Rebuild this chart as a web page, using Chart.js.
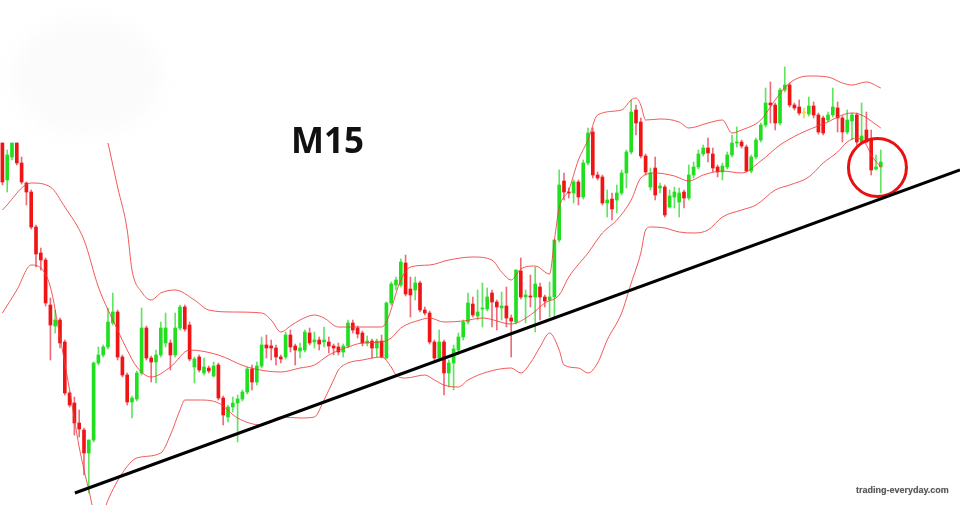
<!DOCTYPE html>
<html><head><meta charset="utf-8">
<script src="https://cdn.jsdelivr.net/npm/chart.js@4.4.1/dist/chart.umd.min.js"></script>
<style>
html,body{margin:0;padding:0;background:#fff;}
#wrap{position:relative;width:960px;height:505px;overflow:hidden;background:#fff;}
#blob{position:absolute;left:12px;top:18px;width:150px;height:118px;border-radius:50%;background:#fbfbfb;filter:blur(10px);}
canvas{position:absolute;left:0;top:0;}
#title{position:absolute;left:291px;top:122px;font-family:'Open Sans',sans-serif;font-weight:700;font-size:35px;line-height:1;color:#111;}
#wm{position:absolute;left:856px;top:486px;font-family:'Liberation Sans',Arial,sans-serif;font-weight:700;font-size:9px;line-height:1;color:#555;text-shadow:0 0 1px #bbb;}
</style></head>
<body>
<div id="wrap">
<div id="blob"></div>
<canvas id="c" width="960" height="505"></canvas>
<div id="title">M15</div>
<div id="wm">trading-everyday.com</div>
</div>
<script>
// M15 candles (price in points)
const open=[362,325,348,362,342,322,313,278,252,245,
200,179,185,163,112,102,82,75,52,65,
142,150,158,182,193,148,130,103,106,132,
177,147,143,150,162,162,150,177,198,180,
138,148,132,137,129,140,107,88,98,102,
106,113,136,123,139,160,159,157,148,148,
170,159,154,155,172,163,165,163,163,159,
158,153,159,182,177,172,162,164,157,164,
147,202,220,220,242,216,215,222,195,192,
163,147,163,132,142,155,168,183,201,189,
196,196,212,203,197,199,187,183,234,208,
209,208,218,208,205,208,265,324,313,312,
323,308,342,373,330,328,302,306,305,312,
332,353,395,383,349,318,337,317,318,298,
308,303,313,307,330,338,351,357,351,338,
333,338,350,362,363,358,334,348,365,380,
402,400,382,415,420,400,398,392,391,399,
390,387,385,390,397,387,373,384,390,363,
375,365,336,338];
const high=[362,355,362,362,348,323,315,280,257,247,
207,195,187,165,113,108,95,77,65,143,
158,160,197,212,195,150,132,109,134,197,
179,149,155,183,192,165,192,200,200,183,
148,150,147,139,143,142,109,100,108,110,
115,138,140,143,168,170,165,160,150,173,
175,161,162,175,177,173,168,178,168,161,
162,161,185,185,179,174,169,166,166,170,
203,223,228,246,250,228,228,224,198,194,
165,175,165,145,160,172,185,212,208,215,
222,217,215,205,213,218,190,235,247,215,
230,238,222,210,223,265,335,332,317,325,
325,345,377,377,333,330,315,312,320,335,
355,405,400,387,351,337,348,322,320,315,
318,317,315,340,343,355,360,367,357,340,
342,353,370,378,365,360,350,367,382,417,
423,402,417,438,422,402,405,397,408,403,
392,389,393,417,403,389,395,392,392,402,
393,375,350,355];
const low=[320,313,345,340,321,300,276,238,235,199,
145,172,157,110,98,70,68,30,12,63,
140,148,156,180,145,128,100,87,104,130,
145,123,122,148,158,135,148,175,174,144,
122,133,130,132,128,105,80,83,93,63,
104,111,115,120,137,147,145,140,142,146,
153,140,147,153,160,157,155,158,152,150,
150,148,157,172,167,159,159,147,148,147,
146,200,215,218,209,188,205,193,190,161,
145,145,110,118,115,153,165,181,188,185,
178,194,178,175,185,178,148,181,206,182,
198,173,185,198,188,188,263,305,307,302,
300,306,340,327,325,300,288,285,292,310,
317,351,370,347,330,315,305,312,288,297,
297,288,297,305,327,336,349,343,333,328,
325,336,348,358,357,333,332,346,363,378,
382,375,380,413,398,395,390,387,389,387,
371,370,383,388,373,363,371,365,360,361,
362,330,335,312];
const close=[323,350,362,342,323,313,278,251,245,202,
180,185,162,112,100,82,76,52,65,142,
150,158,183,193,148,130,103,107,132,177,
147,143,150,177,177,150,177,198,176,146,
146,135,138,134,139,107,90,98,102,106,
113,136,123,139,160,157,157,148,146,170,
158,155,157,173,162,165,161,165,159,157,
153,159,182,175,171,162,164,157,164,148,
202,221,225,243,211,210,222,195,192,163,
147,163,132,142,156,168,183,202,190,193,
197,208,203,198,199,187,184,235,208,210,
208,221,208,204,208,265,320,313,312,323,
308,342,372,330,327,302,305,296,312,332,
353,393,382,349,333,332,310,319,290,309,
313,312,307,330,338,351,357,352,337,333,
339,350,362,363,359,334,348,365,380,402,
400,382,415,420,400,397,392,392,399,390,
373,372,390,398,387,373,385,390,363,369,
363,335,338,343];

// Bollinger bands: [bar index, level]
const bandUpper=[[22,362],[24,318],[26,275],[27,235],[29,213],[31,205],[33,212],[36,215],[40,205],[43,195],[48,193],[54,192],[56,185],[58,173],[60,179],[62,185],[65,190],[67,187],[70,178],[74,178],[79,178],[80,183],[83,225],[85,238],[89,240],[93,245],[98,248],[102,245],[104,233],[106,225],[108,236],[111,239],[114,231],[115,265],[116,297],[118,315],[120,345],[122,365],[124,390],[129,395],[131,405],[132,407],[133,400],[134,385],[137,386],[141,383],[143,377],[147,382],[150,385],[152,372],[154,375],[158,385],[161,405],[164,422],[168,429],[172,428],[175,422],[177,420],[180,423],[183,417]];
const bandMiddle=[[0,295],[6,322],[10,318],[13,298],[17,265],[20,218],[24,175],[26,155],[28,138],[31,128],[35,138],[39,155],[45,150],[51,138],[58,133],[62,137],[65,140],[68,150],[72,158],[75,162],[79,163],[81,167],[83,177],[87,185],[89,187],[92,183],[96,184],[100,187],[106,181],[110,190],[113,202],[116,210],[118,228],[122,252],[125,272],[128,285],[131,305],[133,327],[136,332],[140,329],[143,324],[146,330],[150,334],[154,332],[158,344],[162,360],[166,371],[171,381],[177,392],[179,390],[183,377]];
const bandLower=[[0,192],[3,215],[6,240],[8,237],[10,218],[12,168],[14,115],[16,58],[18,15],[20,-20],[22,5],[25,32],[28,47],[33,52],[35,70],[37,95],[38,105],[41,105],[45,102],[49,87],[54,80],[58,88],[62,87],[65,88],[67,105],[69,125],[70,135],[72,142],[75,145],[79,148],[81,138],[82,130],[84,127],[88,130],[90,125],[92,120],[95,118],[97,125],[101,133],[106,137],[108,132],[110,142],[112,158],[114,172],[116,155],[117,140],[120,137],[122,132],[124,142],[126,165],[129,192],[131,222],[133,252],[134,275],[135,278],[138,277],[141,273],[144,272],[147,275],[150,288],[154,295],[157,300],[161,315],[164,320],[168,328],[171,342],[174,353],[176,363],[178,367],[180,360],[181,350],[183,338]];

const trendLine=[[15.1,12],[199.5,335]];
const markedBar=[[182.3,337.5]];
const slots=200;

const UP='#1fdf1f', DN='#f01414', DOJI='#e8d84c';
const bodyColor=i=>close[i]>open[i]?UP:(close[i]<open[i]?DN:DOJI);
const wickColor=i=>close[i]>open[i]?'#62e462':(close[i]<open[i]?'#f06a78':DOJI);
const pts=a=>a.map(([x,y])=>({x,y}));
const bandStyle={type:'line',borderColor:'rgba(240,60,60,0.85)',borderWidth:1,pointRadius:0,cubicInterpolationMode:'monotone',order:1,fill:false};

new Chart(document.getElementById('c'),{
  type:'bar',
  data:{datasets:[
    {type:'line',data:pts(trendLine),borderColor:'#000',borderWidth:3,pointRadius:0,order:0},
    {type:'line',data:pts(markedBar),showLine:false,pointStyle:'circle',pointRadius:29,pointBorderWidth:3,pointBorderColor:'#e81010',pointBackgroundColor:'rgba(0,0,0,0)',order:0,clip:false},
    Object.assign({data:pts(bandUpper)},bandStyle),
    Object.assign({data:pts(bandMiddle)},bandStyle),
    Object.assign({data:pts(bandLower)},bandStyle),
    {type:'bar',data:open.map((o,i)=>({x:i,y:[o,close[i]]})),backgroundColor:open.map((o,i)=>bodyColor(i)),barThickness:3,grouped:false,minBarLength:1,order:2},
    {type:'bar',data:open.map((o,i)=>({x:i,y:[low[i],high[i]]})),backgroundColor:open.map((o,i)=>wickColor(i)),barThickness:1,grouped:false,order:3}
  ]},
  options:{
    responsive:false,animation:false,devicePixelRatio:1,events:[],
    layout:{padding:0,autoPadding:false},
    plugins:{legend:{display:false},tooltip:{enabled:false}},
    scales:{
      x:{type:'linear',min:-0.5,max:slots-0.5,display:false,offset:false},
      y:{min:0,max:505,display:false}
    }
  }
});
</script>
</body></html>
